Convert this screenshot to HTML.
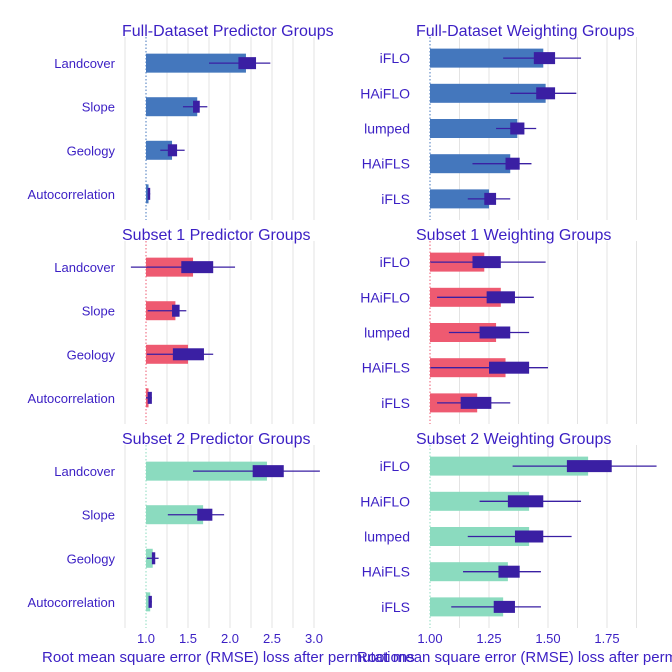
<!DOCTYPE html>
<html><head><meta charset="utf-8">
<style>
html,body{margin:0;padding:0;background:#fff;}
svg{display:block;font-family:"Liberation Sans",Arial,sans-serif;}
</style></head>
<body>
<svg id="chart" width="672" height="672" viewBox="0 0 672 672" xmlns="http://www.w3.org/2000/svg"></svg>
<script>
// ---- data ----
const predCats = ["Landcover","Slope","Geology","Autocorrelation"];
const weightCats = ["iFLO","HAiFLO","lumped","HAiFLS","iFLS"];
const panelTitles = ["Full-Dataset Predictor Groups","Full-Dataset Weighting Groups","Subset 1 Predictor Groups","Subset 1 Weighting Groups","Subset 2 Predictor Groups","Subset 2 Weighting Groups"];
const leftTicks = [1.0,1.5,2.0,2.5,3.0];
const leftTickLabels = ["1.0","1.5","2.0","2.5","3.0"];
const rightTicks = [1.0,1.25,1.5,1.75];
const rightTickLabels = ["1.00","1.25","1.50","1.75"];
// full predictor
const fpBar = [2.19,1.61,1.31,1.03];
const fpQ1 = [2.10,1.56,1.26,1.02];
const fpQ3 = [2.31,1.64,1.37,1.05];
const fpMin = [1.75,1.44,1.17,1.02];
const fpMax = [2.48,1.73,1.46,1.05];
// full weighting
const fwBar = [1.48,1.49,1.37,1.34,1.25];
const fwQ1 = [1.44,1.45,1.34,1.32,1.23];
const fwQ3 = [1.53,1.53,1.40,1.38,1.28];
const fwMin = [1.31,1.34,1.28,1.18,1.16];
const fwMax = [1.64,1.62,1.45,1.43,1.34];
// subset1 predictor
const s1pBar = [1.56,1.35,1.50,1.03];
const s1pQ1 = [1.42,1.31,1.32,1.02];
const s1pQ3 = [1.80,1.40,1.69,1.07];
const s1pMin = [0.82,1.02,1.01,1.00];
const s1pMax = [2.06,1.48,1.80,1.07];
// subset1 weighting
const s1wBar = [1.23,1.30,1.28,1.32,1.20];
const s1wQ1 = [1.18,1.24,1.21,1.25,1.13];
const s1wQ3 = [1.30,1.36,1.34,1.42,1.26];
const s1wMin = [1.00,1.03,1.08,1.00,1.03];
const s1wMax = [1.49,1.44,1.42,1.50,1.34];
// subset2 predictor
const s2pBar = [2.44,1.68,1.08,1.05];
const s2pQ1 = [2.27,1.61,1.07,1.03];
const s2pQ3 = [2.64,1.79,1.11,1.07];
const s2pMin = [1.56,1.26,1.01,1.03];
const s2pMax = [3.07,1.93,1.15,1.07];
// subset2 weighting
const s2wBar = [1.67,1.42,1.42,1.33,1.31];
const s2wQ1 = [1.58,1.33,1.36,1.29,1.27];
const s2wQ3 = [1.77,1.48,1.48,1.38,1.36];
const s2wMin = [1.35,1.21,1.16,1.14,1.09];
const s2wMax = [1.96,1.64,1.60,1.47,1.47];

const NS="http://www.w3.org/2000/svg";
const svg=document.getElementById('chart');
function mk(tag,attrs,parent){const e=document.createElementNS(NS,tag);for(const k in attrs)e.setAttribute(k,attrs[k]);(parent||svg).appendChild(e);return e;}
const TXT="#3b1fc4", BOX="#3a1fa3";
const fills=["#4477bd","#ee5a71","#8bdbbf"];
const dots=["#4477bd","#ee5a71","#8bdbbf"];
const leftX=v=>146+(v-1)*84;
const rightX=v=>430+(v-1)*236;
const panels=[
 {cats:predCats,bar:fpBar,q1:fpQ1,q3:fpQ3,mn:fpMin,mx:fpMax},
 {cats:weightCats,bar:fwBar,q1:fwQ1,q3:fwQ3,mn:fwMin,mx:fwMax},
 {cats:predCats,bar:s1pBar,q1:s1pQ1,q3:s1pQ3,mn:s1pMin,mx:s1pMax},
 {cats:weightCats,bar:s1wBar,q1:s1wQ1,q3:s1wQ3,mn:s1wMin,mx:s1wMax},
 {cats:predCats,bar:s2pBar,q1:s2pQ1,q3:s2pQ3,mn:s2pMin,mx:s2pMax},
 {cats:weightCats,bar:s2wBar,q1:s2wQ1,q3:s2wQ3,mn:s2wMin,mx:s2wMax}
];
panels.forEach((p,i)=>{
  const row=Math.floor(i/2), right=i%2===1;
  const top=37+row*204, bot=top+183;
  const xf=right?rightX:leftX;
  const g=mk('g',{});
  
  
  // grid
  const gmin=right?1.0:0.75, gmax=right?1.875:3.0, gstep=right?0.125:0.25;
  for(let v=gmin;v<=gmax+1e-9;v+=gstep){
    if(Math.abs(v-1)<1e-9) continue;
    const gl=mk('line',{x1:xf(v),x2:xf(v),y1:top,y2:bot,stroke:'#e3e3e3','stroke-width':1},g);
    
    
  }
  // title
  const t=mk('text',{x:right?416:122,y:top-1,'font-size':16,fill:TXT},g);
  t.textContent=panelTitles[i];
  
  
  const n=p.cats.length;
  const step=183/(n-1+1.2);
  const yf=k=>top+step*(0.6+k);
  p.cats.forEach((c,k)=>{
    const y=yf(k);
    const lab=mk('text',{x:right?410:115,y:y+5,'font-size':right?14:13,fill:TXT,'text-anchor':'end'},g);
    lab.textContent=c;
    
    
    const x0=xf(1), x1=xf(p.bar[k]);
    const b=mk('rect',{x:Math.min(x0,x1),y:y-9.5,width:Math.abs(x1-x0),height:19,fill:fills[row]},g);
    
    
    const w=mk('line',{x1:xf(p.mn[k]),x2:xf(p.mx[k]),y1:y,y2:y,stroke:BOX,'stroke-width':1.3},g);
    
    
    const bx=mk('rect',{x:xf(p.q1[k]),y:y-6,width:Math.max(2,xf(p.q3[k])-xf(p.q1[k])),height:12,fill:BOX},g);
    
    
  });
  const d=mk('line',{x1:xf(1),x2:xf(1),y1:top,y2:bot,stroke:dots[row],'stroke-width':1,'stroke-dasharray':'1.5,2'},g);
  
  
  if(row===2){
    const ticks=right?rightTicks:leftTicks, labs=right?rightTickLabels:leftTickLabels;
    ticks.forEach((v,k)=>{
      const tl=mk('text',{x:xf(v),y:643,'font-size':13,fill:TXT,'text-anchor':'middle'},g);
      tl.textContent=labs[k];
      
      
    });
    const at=mk('text',{x:right?357:42,y:662,'font-size':15,fill:TXT},g);
    at.textContent="Root mean square error (RMSE) loss after permutations";
    
    
  }
});
</script>
</body></html>
